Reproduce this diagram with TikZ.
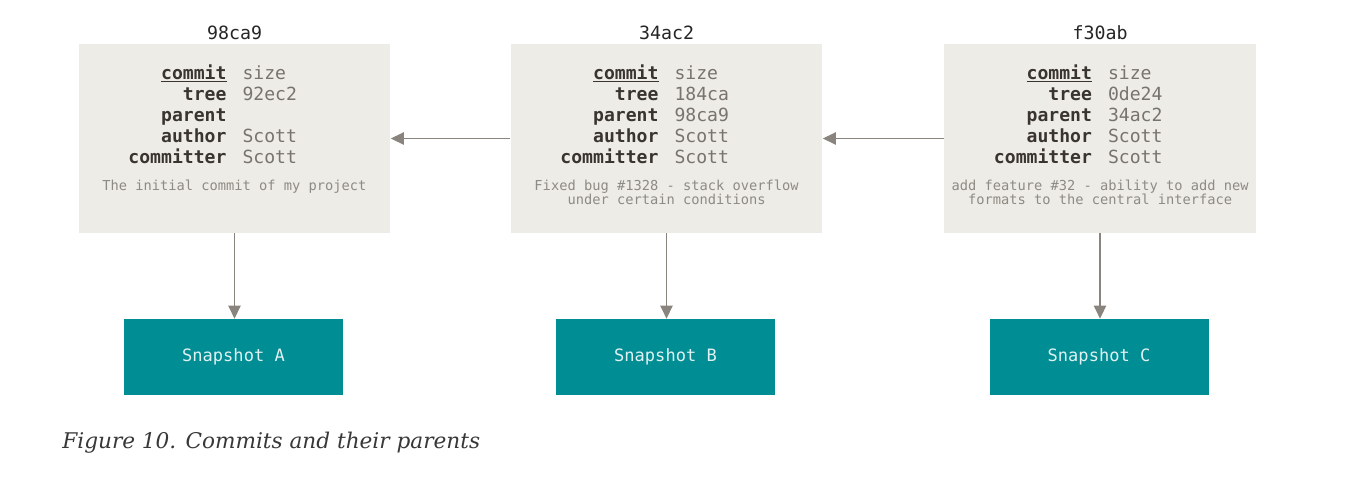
\documentclass[tikz,border=0pt]{standalone}
\usepackage{fontspec}
\usepackage{array}
\setmonofont{DejaVu Sans Mono}
\newfontfamily\captionserif{DejaVu Serif}
\definecolor{gitpaper}{RGB}{238,236,230}
\definecolor{gitteal}{RGB}{0,142,148}
\definecolor{gitgray}{RGB}{138,132,126}
\definecolor{gitdark}{RGB}{58,52,48}
\definecolor{gitvalue}{RGB}{120,115,110}
\definecolor{gitnote}{RGB}{142,138,132}
\usetikzlibrary{arrows.meta,positioning}
\newcommand{\commitfields}[2]{%
  \begin{tabular}[t]{@{}>{\raggedleft\arraybackslash\bfseries\leavevmode\color{gitdark}}p{2.6cm}@{\hspace{0.32cm}}>{\raggedright\arraybackslash\leavevmode\color{gitvalue}}p{2.6cm}@{}}
    \underline{commit} & size\\
    tree & #1\\
    parent & #2\\
    author & Scott\\
    committer & Scott
  \end{tabular}}
\begin{document}
\begin{tikzpicture}[x=0.02cm,y=-0.02cm,
  commit/.style={fill=gitpaper,minimum width=6.24cm,minimum height=3.78cm,inner sep=0pt},
  snapshot/.style={fill=gitteal,minimum width=4.38cm,minimum height=1.52cm,inner sep=0pt,text=white!88!gitteal,font=\ttfamily\fontsize{9.7}{11}\selectfont},
  hash/.style={inner sep=0pt,text=black!85,font=\ttfamily\fontsize{10.4}{12}\selectfont},
  fields/.style={anchor=base,inner sep=0pt,font=\ttfamily\fontsize{10.3}{12.05}\selectfont},
  note/.style={anchor=base,inner sep=0pt,text=gitnote,font=\ttfamily\fontsize{7.8}{8.5}\selectfont},
  parentarrow/.style={-{Triangle[length=7.4pt,width=7pt]},gitgray,line width=0.8pt}]
  \useasboundingbox (0,0) rectangle (1354,478);
  % Commit objects
  \node[commit] (c1) at (234.5,138.5) {};
  \node[commit] (c2) at (666.5,138.5) {};
  \node[commit] (c3) at (1100,138.5) {};
  \node[hash] (h1) at (234.5,33) {98ca9};
  \node[hash] (h2) at (666.5,33) {34ac2};
  \node[hash] (h3) at (1100,33) {f30ab};
  \node[fields] (f1) at (234.5,79) {\commitfields{92ec2}{}};
  \node[fields] (f2) at (666.5,79) {\commitfields{184ca}{98ca9}};
  \node[fields] (f3) at (1100,79) {\commitfields{0de24}{34ac2}};
  \node[note] (m1) at (234.5,190) {\begin{tabular}[t]{@{}c@{}}The initial commit of my project\end{tabular}};
  \node[note] (m2) at (666.5,190) {\begin{tabular}[t]{@{}c@{}}Fixed bug \#1328 - stack overflow\\under certain conditions\end{tabular}};
  \node[note] (m3) at (1100,190) {\begin{tabular}[t]{@{}c@{}}add feature \#32 - ability to add new\\formats to the central interface\end{tabular}};
  % Snapshots
  \node[snapshot] (s1) at (233.5,357) {Snapshot A};
  \node[snapshot] (s2) at (665.5,357) {Snapshot B};
  \node[snapshot] (s3) at (1099,357) {Snapshot C};
  % Arrows
  \draw[parentarrow] (c2.west) -- (c1.east);
  \draw[parentarrow] (c3.west) -- (c2.east);
  \foreach \i in {1,2,3} \draw[parentarrow] (c\i.south) -- (c\i.south |- s\i.north);
  % Caption
  \node[anchor=base west,inner sep=0pt,text=black!78,font=\captionserif\itshape\fontsize{12.3}{14}\selectfont] (cap) at (62,448) {Figure 10. Commits and their parents};
\end{tikzpicture}
\end{document}
